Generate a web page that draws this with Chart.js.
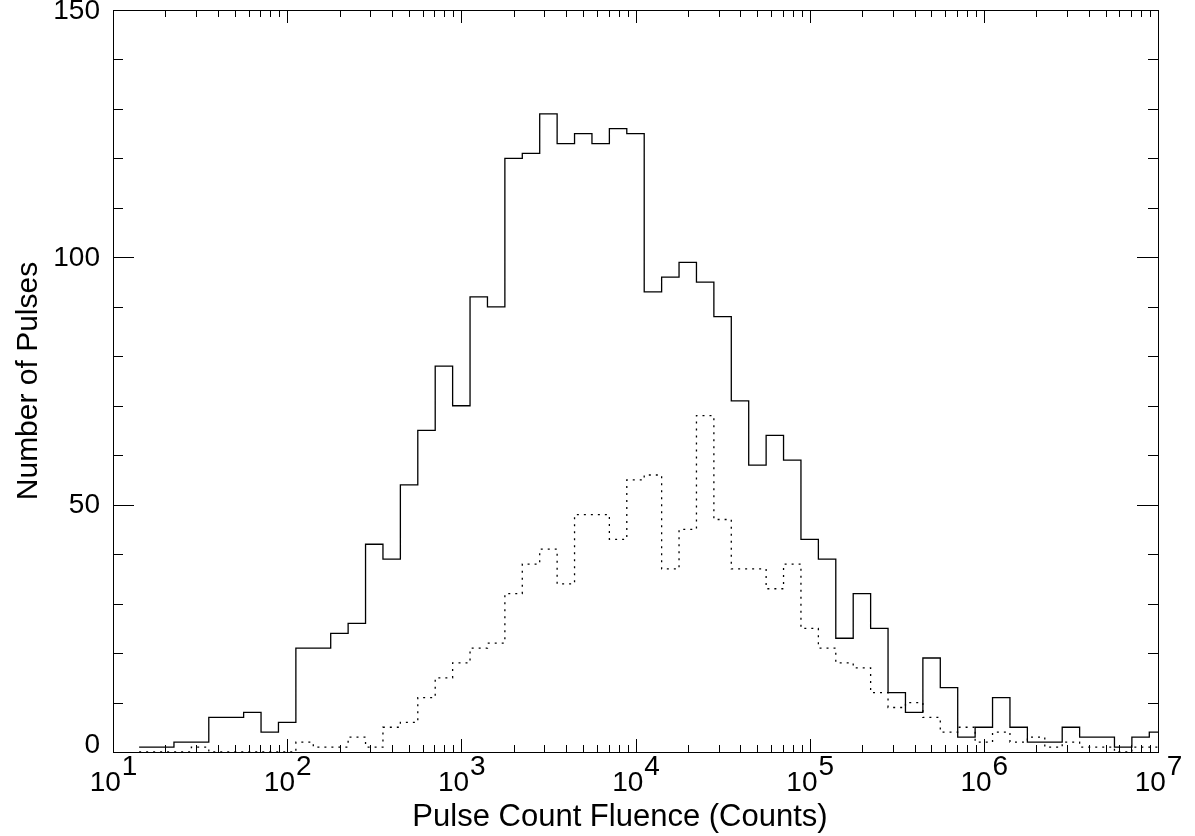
<!DOCTYPE html>
<html>
<head>
<meta charset="utf-8">
<script src="https://cdn.jsdelivr.net/npm/chart.js@4"></script>
<style>
  body { margin: 0; background: #fff; }
  #wrap { width: 1195px; height: 836px; }
</style>
</head>
<body>
<div id="wrap"><canvas id="pulseChart" width="1195" height="836"></canvas></div>
<script>
// bin centres, log10(counts), width 0.1 dex
const binCentre = [1.2, 1.3, 1.4, 1.5, 1.6, 1.7, 1.8, 1.9, 2.0,
    2.1, 2.2, 2.3, 2.4, 2.5, 2.6, 2.7, 2.8, 2.9, 3.0,
    3.1, 3.2, 3.3, 3.4, 3.5, 3.6, 3.7, 3.8, 3.9, 4.0,
    4.1, 4.2, 4.3, 4.4, 4.5, 4.6, 4.7, 4.8, 4.9, 5.0,
    5.1, 5.2, 5.3, 5.4, 5.5, 5.6, 5.7, 5.8, 5.9, 6.0,
    6.1, 6.2, 6.3, 6.4, 6.5, 6.6, 6.7, 6.8, 6.9, 7.0];
const binHalfWidth = 0.05;

const allPulses = [1, 1, 2, 2, 7, 7, 8, 4, 6,
    21, 21, 24, 26, 42, 39, 54, 65, 78, 70,
    92, 90, 120, 121, 129, 123, 125, 123, 126, 125,
    93, 96, 99, 95, 88, 71, 58, 64, 59, 43,
    39, 23, 32, 25, 12, 8, 19, 13, 3, 5,
    11, 5, 2, 2, 5, 3, 3, 1, 3, 4];

const subsetPulses = [0, 0, 0, 1, 0, 0, 0, 0, 0,
    2, 1, 1, 3, 1, 5, 6, 11, 15, 18,
    21, 22, 32, 38, 41, 34, 48, 48, 43, 55,
    56, 37, 45, 68, 47, 37, 37, 33, 38, 25,
    21, 18, 17, 12, 9, 10, 7, 4, 5, 2,
    4, 2, 3, 1, 2, 1, 1, 0, 1, 1];

const xDecades = [1, 2, 3, 4, 5, 6, 7];
const yLabels = [0, 50, 100, 150];
const yMinorStep = 10;

const FONT = '"Liberation Sans", Arial, Helvetica, sans-serif';

function histPoints(counts) {
    const pts = binCentre.map((c, i) => ({ x: Math.pow(10, c - binHalfWidth), y: counts[i] }));
    const last = binCentre.length - 1;
    pts.push({ x: Math.pow(10, binCentre[last] + binHalfWidth), y: counts[last] });
    return pts;
}

// box, inward ticks and IDL-style labels
const idlAxes = {
    id: 'idlAxes',
    afterDatasetsDraw(chart) {
        const ctx = chart.ctx;
        const a = chart.chartArea;
        const x = chart.scales.x;
        const y = chart.scales.y;
        ctx.save();
        ctx.strokeStyle = '#000';
        ctx.lineWidth = 1;
        ctx.strokeRect(a.left + 0.5, a.top + 0.5, a.right - a.left, a.bottom - a.top);

        ctx.beginPath();
        // x ticks (bottom and top)
        xDecades.forEach(e => {
            for (let m = 1; m <= 9; m++) {
                if (m > 1 && e === xDecades[xDecades.length - 1]) break;
                const px = Math.round(x.getPixelForValue(m * Math.pow(10, e))) + 0.5;
                const len = m === 1 ? 13 : 7;
                ctx.moveTo(px, a.bottom); ctx.lineTo(px, a.bottom - len);
                ctx.moveTo(px, a.top); ctx.lineTo(px, a.top + len);
            }
        });
        // y ticks (left and right)
        for (let v = yLabels[0]; v <= yLabels[yLabels.length - 1]; v += yMinorStep) {
            const py = Math.round(y.getPixelForValue(v)) + 0.5;
            const len = yLabels.includes(v) ? 21 : 10;
            ctx.moveTo(a.left, py); ctx.lineTo(a.left + len, py);
            ctx.moveTo(a.right, py); ctx.lineTo(a.right - len, py);
        }
        ctx.stroke();

        ctx.fillStyle = '#000';
        ctx.font = '28px ' + FONT;
        // y labels
        ctx.textAlign = 'right';
        ctx.textBaseline = 'middle';
        yLabels.forEach(v => {
            let py = y.getPixelForValue(v);
            if (v === 0) py -= 8;
            ctx.fillText(String(v), a.left - 13, py + 1);
        });
        // x labels 10^n
        ctx.textAlign = 'left';
        ctx.textBaseline = 'alphabetic';
        xDecades.forEach(e => {
            const px = x.getPixelForValue(Math.pow(10, e));
            const base = '10';
            const sup = String(e);
            const wb = ctx.measureText(base).width;
            const ws = ctx.measureText(sup).width;
            const left = px - (wb + ws) / 2;
            ctx.fillText(base, left, 791);
            ctx.fillText(sup, left + wb + 1, 775);
        });

        // axis titles
        ctx.textAlign = 'center';
        ctx.font = '31px ' + FONT;
        ctx.fillText('Pulse Count Fluence (Counts)', 620, 826);
        ctx.font = '30px ' + FONT;
        ctx.save();
        ctx.translate(37, (a.top + a.bottom) / 2);
        ctx.rotate(-Math.PI / 2);
        ctx.fillText('Number of Pulses', 0, 0);
        ctx.restore();
        ctx.restore();
    }
};

new Chart(document.getElementById('pulseChart'), {
    type: 'line',
    data: {
        datasets: [
            {
                label: 'All pulses',
                data: histPoints(allPulses),
                borderColor: '#000',
                borderWidth: 1.3,
                stepped: 'before',
                pointRadius: 0,
                fill: false
            },
            {
                label: 'Subset',
                data: histPoints(subsetPulses),
                borderColor: '#000',
                borderWidth: 1.3,
                borderDash: [2, 5],
                stepped: 'before',
                pointRadius: 0,
                fill: false
            }
        ]
    },
    options: {
        responsive: false,
        animation: false,
        events: [],
        layout: { padding: { left: 113, right: 37, top: 10, bottom: 84 } },
        plugins: {
            legend: { display: false },
            tooltip: { enabled: false }
        },
        scales: {
            x: { type: 'logarithmic', min: 10, max: 1e7, display: false },
            y: { type: 'linear', min: 0, max: 150, display: false }
        }
    },
    plugins: [idlAxes]
});
</script>
</body>
</html>
